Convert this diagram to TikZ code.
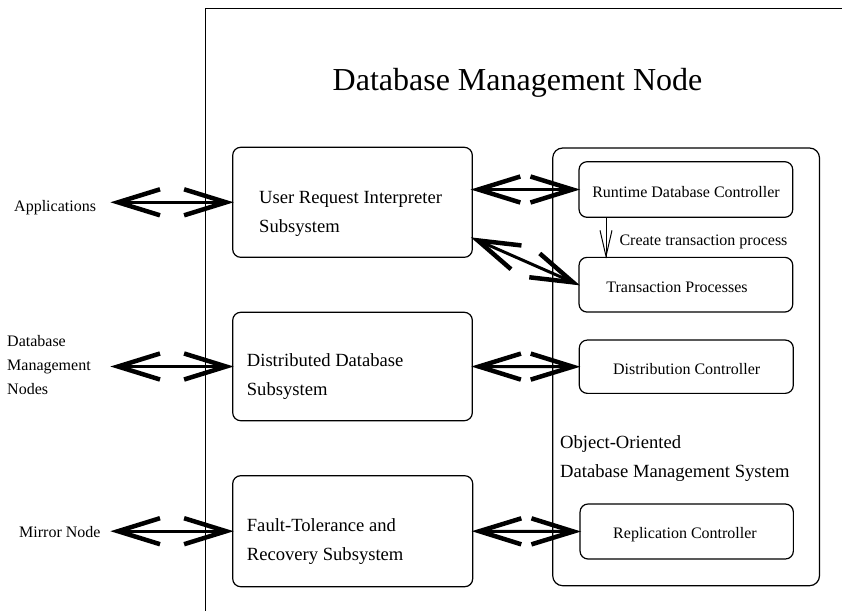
\documentclass[tikz,border=0pt]{standalone}
\usepackage{fontspec}
\setmainfont{Liberation Serif}
\usetikzlibrary{calc}

\tikzset{
  box/.style={draw, line width=1.2pt, rounded corners=8pt, inner sep=0pt},
  bigtext/.style={font=\fontsize{18.6}{29}\selectfont, inner sep=0pt, align=left},
  smalltext/.style={font=\fontsize{16}{24}\selectfont, inner sep=0pt},
  shaft/.style={line width=3pt},
  barb/.style={line width=4.5pt, line join=miter, line cap=butt},
  thinbarb/.style={line width=1pt, line join=miter}
}

% open chevron head at #1, pointing away from #2
\newcommand\chevronhead[2]{%
  \coordinate (chvTip) at ($(#1)!6pt!(#2)$);
  \draw[barb] ($(chvTip)!42pt!(#2)!13pt!90:(chvTip)$) -- (chvTip)
              -- ($(chvTip)!42pt!(#2)!13pt!-90:(chvTip)$);
}
% thick double-headed connector between #1 and #2
\newcommand\biarrow[2]{%
  \draw[shaft] ($(#1)!4pt!(#2)$) -- ($(#2)!4pt!(#1)$);
  \chevronhead{#1}{#2}
  \chevronhead{#2}{#1}
}

\begin{document}
\begin{tikzpicture}[x=1pt, y=-1pt]
\useasboundingbox (0,0) rectangle (842,611);

% node frame, open to the right and at the bottom
\draw[line width=1pt] (842,8) -- (205,8) -- (205,611);
\node[font=\fontsize{32}{38}\selectfont, inner sep=0pt, anchor=base] (title) at (517.5,90.5) {Database Management Node};

% subsystems
\node[box, minimum width=239.6pt, minimum height=110pt] (uris) at (352.5,202.3) {};
\node[bigtext, anchor=base west] (uristxt) at (259,232) {User Request Interpreter\\Subsystem};
\node[box, minimum width=239.6pt, minimum height=108.4pt] (dds) at (352.5,366.5) {};
\node[bigtext, anchor=base west] (ddstxt) at (246.7,395) {Distributed Database\\Subsystem};
\node[box, minimum width=240pt, minimum height=111pt] (ftrs) at (352.7,531.2) {};
\node[bigtext, anchor=base west] (ftrstxt) at (246.7,560) {Fault-Tolerance and\\Recovery Subsystem};

% object-oriented DBMS
\draw[line width=1.2pt, rounded corners=10pt] (552.7,148) rectangle (819.5,585.7);
\node[bigtext, anchor=base west] (oodbms) at (560,477) {Object-Oriented\\Database Management System};
\node[box, minimum width=213.7pt, minimum height=55.6pt] (rdc) at (685.9,189.5) {};
\node[smalltext, anchor=base] (rdctxt) at (686,197) {Runtime Database Controller};
\node[box, minimum width=213.7pt, minimum height=54.7pt] (tp) at (685.9,284.7) {};
\node[smalltext, anchor=base] (tptxt) at (677,292) {Transaction Processes};
\node[box, minimum width=214pt, minimum height=53.3pt] (dc) at (686.3,366.7) {};
\node[smalltext, anchor=base] (dctxt) at (686.7,374) {Distribution Controller};
\node[box, minimum width=213.3pt, minimum height=55pt] (rc) at (686.7,531.5) {};
\node[smalltext, anchor=base] (rctxt) at (685,538) {Replication Controller};

% external partners
\node[smalltext, anchor=base west] (app) at (14,211) {Applications};
\node[smalltext, anchor=base west, align=left] (dbm) at (7,394) {Database\\Management\\Nodes};
\node[smalltext, anchor=base west] (mirror) at (19,537) {Mirror Node};

\coordinate (appEnd) at (112,202.3);
\coordinate (dbmEnd) at (112,366.5);
\coordinate (mirrorEnd) at (112,531.2);
\coordinate (urisLow) at (472.3,238);
\coordinate (urisHigh) at (472.3,189.5);
\coordinate (createTop) at (606,217.3);
\coordinate (createEnd) at (606,257.3);

% connectors
\biarrow{appEnd}{uris.west}
\biarrow{dbmEnd}{dds.west}
\biarrow{mirrorEnd}{ftrs.west}
\biarrow{urisHigh}{rdc.west}
\biarrow{urisLow}{tp.west}
\biarrow{dds.east}{dc.west}
\biarrow{ftrs.east}{rc.west}

\draw[line width=1pt] (createTop) -- (createEnd);
\draw[thinbarb] ($(createEnd)!27pt!(createTop)!6pt!90:(createEnd)$) -- ($(createEnd)!1pt!(createTop)$)
                -- ($(createEnd)!27pt!(createTop)!6pt!-90:(createEnd)$);
\node[smalltext, anchor=base west] (create) at (619.3,245) {Create transaction process};
\end{tikzpicture}
\end{document}
